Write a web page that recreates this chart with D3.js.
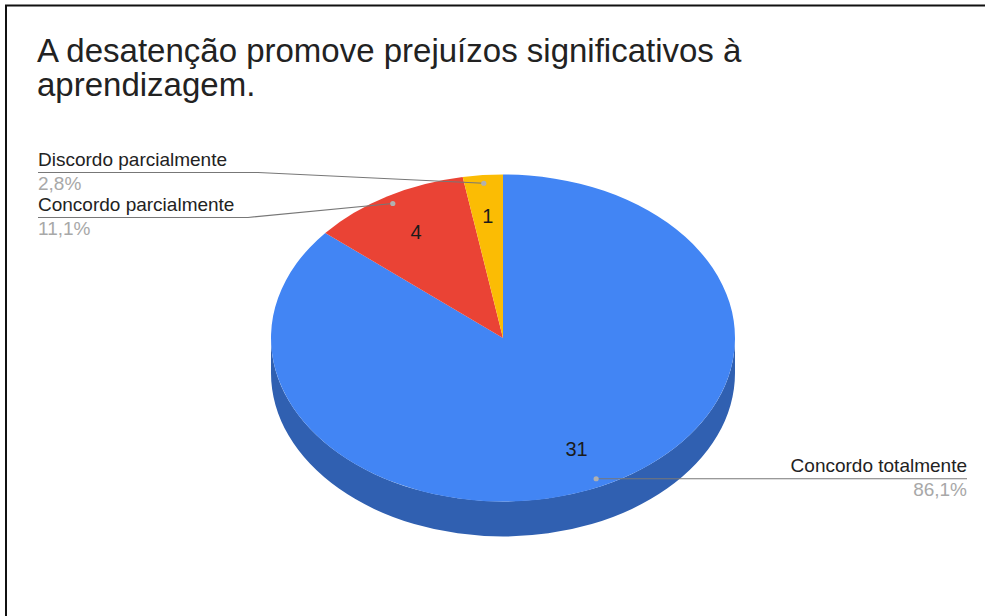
<!DOCTYPE html>
<html>
<head>
<meta charset="utf-8">
<script src="https://cdn.jsdelivr.net/npm/d3@7"></script>
<style>
  body { margin: 0; background: #fff; }
  svg { display: block; font-family: "Liberation Sans", Arial, sans-serif; }
</style>
</head>
<body>
<script>
// Survey answers: "A desatenção promove prejuízos significativos à aprendizagem."
const categories = ["Concordo totalmente", "Concordo parcialmente", "Discordo parcialmente"];
const counts = [31, 4, 1];
const colors = ["#4285f4", "#ea4335", "#fbbc04"];
const titleLines = ["A desatenção promove prejuízos significativos à", "aprendizagem."];

const W = 985, H = 616;
const svg = d3.select("body").append("svg").attr("width", W).attr("height", H);
svg.append("rect").attr("width", W).attr("height", H).attr("fill", "#fff");

// frame (top and left edges)
svg.append("path")
  .attr("d", `M6,${H} V5.5 H${W}`)
  .attr("fill", "none").attr("stroke", "#111").attr("stroke-width", 2);

// title
svg.append("g").selectAll("text").data(titleLines).join("text")
  .attr("x", 37).attr("y", (d, i) => 62 + i * 34)
  .attr("font-size", 33).attr("fill", "#222")
  .text(d => d);

// 3D pie geometry
const cx = 503, cy = 338, rx = 232, ry = 163.5, depth = 35;
const total = d3.sum(counts);
const slices = d3.pie().sort(null).value(d => d)(counts);
const pt = (a, k = 1, dy = 0) => [cx + rx * k * Math.sin(a), cy - ry * k * Math.cos(a) + dy];

function topPath(s) {
  const [x0, y0] = pt(s.startAngle), [x1, y1] = pt(s.endAngle);
  const large = s.endAngle - s.startAngle > Math.PI ? 1 : 0;
  return `M${cx},${cy}L${x0},${y0}A${rx},${ry} 0 ${large} 1 ${x1},${y1}Z`;
}
function sidePath(s) {
  const a0 = Math.max(s.startAngle, Math.PI / 2), a1 = Math.min(s.endAngle, 3 * Math.PI / 2);
  if (a1 <= a0) return null;
  const [x0, y0] = pt(a0), [x1, y1] = pt(a1), [x2, y2] = pt(a1, 1, depth), [x3, y3] = pt(a0, 1, depth);
  return `M${x0},${y0}A${rx},${ry} 0 0 1 ${x1},${y1}L${x2},${y2}A${rx},${ry} 0 0 0 ${x3},${y3}Z`;
}

const pieG = svg.append("g");
// walls first, then the top face
pieG.selectAll("path.side").data(slices.filter(s => sidePath(s))).join("path")
  .attr("class", "side")
  .attr("d", sidePath)
  .attr("fill", s => d3.rgb(colors[s.index]).darker(0.9));
pieG.selectAll("path.top").data(slices).join("path")
  .attr("class", "top")
  .attr("d", topPath)
  .attr("fill", s => colors[s.index]);

// values inside slices
const mid = s => (s.startAngle + s.endAngle) / 2;
pieG.selectAll("text.val").data(slices).join("text")
  .attr("class", "val")
  .attr("x", s => pt(mid(s), 0.75)[0])
  .attr("y", s => pt(mid(s), 0.75)[1])
  .attr("dy", "0.36em")
  .attr("text-anchor", "middle")
  .attr("font-size", 20).attr("fill", "#1b1b1b")
  .text(s => s.data);

// outside labels with leader lines
const ptBR = d3.formatLocale({ decimal: ",", thousands: ".", grouping: [3], currency: ["R$", ""] });
const pct = v => ptBR.format(".1f")(v / total * 100) + "%";
const labelLayout = [
  { side: "right", xEnd: 967 },
  { side: "left", lineY: 217.5, elbowX: 248, xEnd: 38 },
  { side: "left", lineY: 172.5, elbowX: 258, xEnd: 38 }
];

const lab = svg.append("g").selectAll("g").data(slices).join("g");
lab.each(function (s) {
  const g = d3.select(this);
  const L = labelLayout[s.index];
  const [dx, dy] = pt(mid(s), 0.95);
  const lineY = L.side === "right" ? dy : L.lineY;
  const pts = L.side === "right"
    ? [[dx, dy], [L.xEnd, lineY]]
    : [[dx, dy], [L.elbowX, lineY], [L.xEnd, lineY]];
  g.append("path").attr("d", d3.line()(pts))
    .attr("fill", "none").attr("stroke", "#777").attr("stroke-width", 1.2);
  g.append("circle").attr("cx", dx).attr("cy", dy).attr("r", 2.6).attr("fill", "#b0b0b0");
  const anchor = L.side === "right" ? "end" : "start";
  g.append("text").attr("x", L.xEnd).attr("y", lineY - 7)
    .attr("text-anchor", anchor).attr("font-size", 19).attr("fill", "#222")
    .text(categories[s.index]);
  g.append("text").attr("x", L.xEnd).attr("y", lineY + 17)
    .attr("text-anchor", anchor).attr("font-size", 19).attr("fill", "#a8a8a8")
    .text(pct(s.data));
});
</script>
</body>
</html>
